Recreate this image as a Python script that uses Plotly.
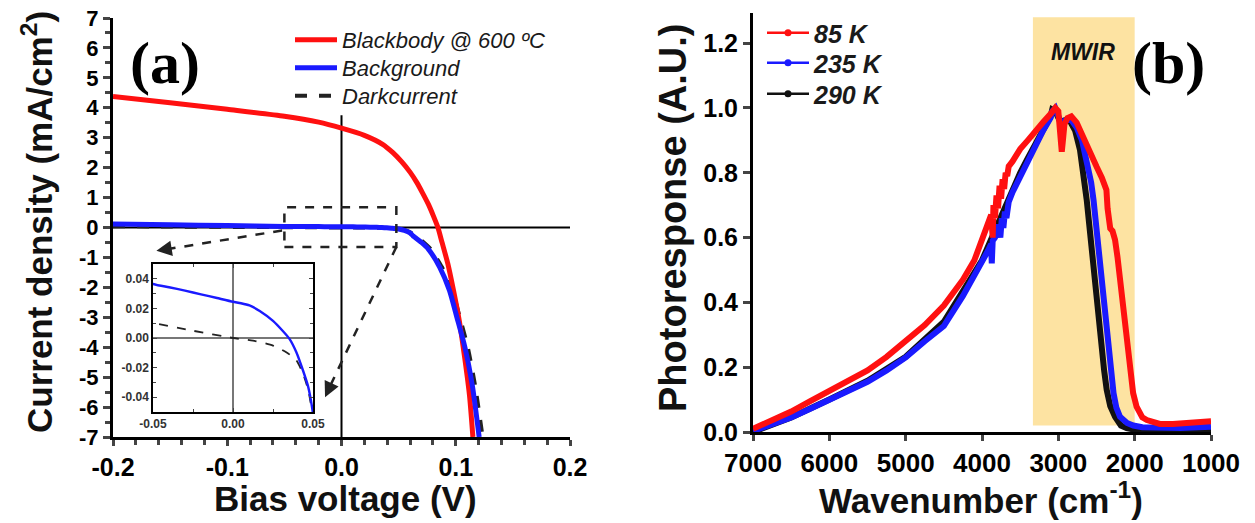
import plotly.graph_objects as go

# ---------------- Panel (a): J-V curves ----------------
bb_v = [-0.2, -0.15, -0.1, -0.05, -0.02, 0.0, 0.02, 0.036, 0.045, 0.0526, 0.06, 0.066, 0.071,
        0.076, 0.0805, 0.0844, 0.088, 0.093, 0.098, 0.103, 0.108, 0.112, 0.115]
bb_j = [4.38, 4.17, 3.95, 3.72, 3.52, 3.32, 3.08, 2.78, 2.5, 2.2, 1.85, 1.5, 1.15,
        0.78, 0.38, 0.0, -0.5, -1.2, -2.1, -3.1, -4.4, -5.6, -7.0]

bg_v = [-0.2, -0.15, -0.1, -0.05, -0.04, -0.03, -0.02, -0.01, 0.0, 0.005, 0.0103, 0.0167, 0.025,
        0.031, 0.0354, 0.0396, 0.0437, 0.047, 0.05, 0.055, 0.06, 0.0626, 0.07, 0.076, 0.086,
        0.0945, 0.101, 0.108, 0.1146, 0.1205]
bg_j = [0.12, 0.09, 0.065, 0.0365, 0.0343, 0.032, 0.0295, 0.027, 0.0245, 0.0235, 0.022, 0.0183, 0.0116,
        0.0049, -0.0007, -0.0096, -0.0218, -0.033, -0.051, -0.1, -0.18, -0.28, -0.5, -0.72, -1.33,
        -2.1, -3.0, -4.0, -5.3, -7.0]

dk_v = [-0.2, -0.15, -0.1, -0.05, -0.025, 0.0, 0.0125, 0.025, 0.0333, 0.0396, 0.0437, 0.047, 0.0495,
        0.055, 0.06, 0.065, 0.072, 0.078, 0.088, 0.097, 0.1035, 0.1105, 0.117, 0.1235]
dk_j = [0.045, 0.03, 0.02, 0.0102, 0.0049, 0.0, -0.0018, -0.0051, -0.0096, -0.015, -0.024, -0.035, -0.05,
        -0.09, -0.16, -0.28, -0.5, -0.72, -1.33, -2.1, -3.0, -4.0, -5.3, -7.0]

a_xtick_vals = [-0.2, -0.1, 0.0, 0.1, 0.2]
a_xtick_text = ["-0.2", "-0.1", "0.0", "0.1", "0.2"]
a_ytick_vals = list(range(-7, 8))
a_ytick_text = [str(v) for v in a_ytick_vals]
in_xtick_vals = [-0.05, 0.0, 0.05]
in_xtick_text = ["-0.05", "0.00", "0.05"]
in_ytick_vals = [-0.04, -0.02, 0.0, 0.02, 0.04]
in_ytick_text = ["-0.04", "-0.02", "0.00", "0.02", "0.04"]

# ---------------- Panel (b): photoresponse ----------------
k85 = [7000, 6750, 6500, 6250, 6000, 5750, 5500, 5250, 5000, 4750, 4500, 4250, 4100, 4000, 3920,
       3880, 3860, 3850, 3830, 3810, 3790, 3770, 3750, 3730, 3710, 3690, 3670, 3650, 3600, 3500,
       3400, 3300, 3200, 3100, 3040, 3000, 2970, 2955, 2940, 2920, 2880, 2830, 2760, 2680, 2600,
       2500, 2430, 2370, 2355, 2340, 2320, 2290, 2257, 2225, 2192, 2160, 2127, 2095, 2061, 2020,
       1975, 1900, 1840, 1750, 1670, 1500, 1300, 1150, 1000]
r85 = [0.01, 0.035, 0.063, 0.095, 0.125, 0.157, 0.19, 0.232, 0.28, 0.33, 0.39, 0.47, 0.53, 0.6, 0.65,
       0.67, 0.6, 0.7, 0.66, 0.73, 0.69, 0.76, 0.72, 0.78, 0.75, 0.8, 0.79, 0.82, 0.835, 0.873,
       0.9, 0.93, 0.956, 0.982, 1.0, 0.99, 0.93, 0.865, 0.9, 0.95, 0.969, 0.974, 0.955, 0.91, 0.87,
       0.819, 0.785, 0.747, 0.69, 0.665, 0.628, 0.62, 0.593, 0.54, 0.469, 0.4, 0.325, 0.25, 0.171, 0.12,
       0.078, 0.045, 0.037, 0.028, 0.025, 0.025, 0.027, 0.03, 0.033]

k235 = [7000, 6750, 6500, 6250, 6000, 5750, 5500, 5250, 5000, 4750, 4500, 4250, 4100, 4000, 3920,
        3880, 3872, 3860, 3830, 3800, 3780, 3760, 3740, 3720, 3700, 3680, 3650, 3600, 3500, 3400,
        3300, 3200, 3100, 3080, 3040, 3000, 2960, 2940, 2900, 2830, 2760, 2690, 2650, 2604, 2570,
        2539, 2505, 2473, 2440, 2408, 2375, 2343, 2310, 2277, 2240, 2192, 2100, 2018, 1900, 1700,
        1400, 1000]
r235 = [0.003, 0.022, 0.045, 0.072, 0.099, 0.125, 0.155, 0.19, 0.23, 0.28, 0.327, 0.42, 0.48, 0.525, 0.56,
        0.58, 0.52, 0.59, 0.6, 0.62, 0.64, 0.6, 0.66, 0.63, 0.68, 0.66, 0.71, 0.74, 0.79, 0.84,
        0.885, 0.93, 0.97, 0.99, 1.0, 0.98, 0.95, 0.955, 0.963, 0.963, 0.94, 0.9, 0.86, 0.819, 0.77,
        0.716, 0.64, 0.562, 0.48, 0.407, 0.33, 0.253, 0.18, 0.12, 0.075, 0.047, 0.028, 0.02, 0.015, 0.012,
        0.012, 0.016]

k290 = [7000, 6500, 6000, 5500, 5000, 4500, 4000, 3800, 3700, 3600, 3500, 3400, 3300, 3200, 3100,
        3080, 3040, 3000, 2960, 2940, 2880, 2850, 2780, 2716, 2670, 2628, 2595, 2563, 2530, 2497,
        2465, 2432, 2400, 2366, 2320, 2257, 2180, 2104, 2000, 1500, 1000]
r290 = [0.0, 0.045, 0.1, 0.158, 0.232, 0.34, 0.53, 0.64, 0.69, 0.745, 0.8, 0.845, 0.89, 0.935, 0.975,
        0.995, 0.99, 0.97, 0.95, 0.96, 0.965, 0.96, 0.93, 0.87, 0.8, 0.716, 0.64, 0.562, 0.485, 0.407,
        0.33, 0.253, 0.19, 0.13, 0.08, 0.047, 0.02, 0.012, 0.007, 0.004, 0.005]

b_xtick_vals = [7000, 6000, 5000, 4000, 3000, 2000, 1000]
b_xtick_text = ["7000", "6000", "5000", "4000", "3000", "2000", "1000"]
b_ytick_vals = [0.0, 0.2, 0.4, 0.6, 0.8, 1.0, 1.2]
b_ytick_text = ["0.0", "0.2", "0.4", "0.6", "0.8", "1.0", "1.2"]
mwir_band = [3333, 2000]

SANS = "Liberation Sans"
SERIF = "Liberation Serif"
RED, BLUE, BLK = "#ff1010", "#1a1aff", "#111111"

fig = go.Figure()

# panel (a) main
fig.add_trace(go.Scatter(x=dk_v, y=dk_j, mode="lines", name="Darkcurrent", legend="legend3",
                         line=dict(color="#222222", width=4, dash="dash", shape="spline", smoothing=0.6),
                         xaxis="x", yaxis="y"))
fig.add_trace(go.Scatter(x=bb_v, y=bb_j, mode="lines", name="Blackbody @ 600 ºC", legend="legend",
                         line=dict(color=RED, width=5, shape="spline", smoothing=0.6), xaxis="x", yaxis="y"))
fig.add_trace(go.Scatter(x=bg_v, y=bg_j, mode="lines", name="Background", legend="legend2",
                         line=dict(color=BLUE, width=5, shape="spline", smoothing=0.6), xaxis="x", yaxis="y"))
# inset
fig.add_trace(go.Scatter(x=dk_v, y=dk_j, mode="lines", showlegend=False,
                         line=dict(color="#222222", width=1.8, dash="dash", shape="spline", smoothing=0.6),
                         xaxis="x3", yaxis="y3"))
fig.add_trace(go.Scatter(x=bg_v, y=bg_j, mode="lines", showlegend=False,
                         line=dict(color=BLUE, width=2.4, shape="spline", smoothing=0.6), xaxis="x3", yaxis="y3"))

# panel (b)
fig.add_trace(go.Scatter(x=k290, y=r290, mode="lines", showlegend=False,
                         line=dict(color=BLK, width=6), xaxis="x2", yaxis="y2"))
fig.add_trace(go.Scatter(x=k235, y=r235, mode="lines", showlegend=False,
                         line=dict(color=BLUE, width=6), xaxis="x2", yaxis="y2"))
fig.add_trace(go.Scatter(x=k85, y=r85, mode="lines", showlegend=False,
                         line=dict(color=RED, width=6), xaxis="x2", yaxis="y2"))
for nm, col, lg in [("85 K", RED, "legend4"), ("235 K", BLUE, "legend5"), ("290 K", BLK, "legend6")]:
    fig.add_trace(go.Scatter(x=[None], y=[None], mode="lines+markers", name=nm, legend=lg,
                             line=dict(color=col, width=2.5), marker=dict(color=col, size=7),
                             xaxis="x2", yaxis="y2"))

W, H = 1255, 523
def px(xp): return xp / W
def py(yp): return 1 - yp / H

line_common = dict(showline=True, linecolor="black", showgrid=False, zeroline=False, automargin=False)

def leg(xp, yp, size, weight="normal"):
    return dict(x=px(xp), y=py(yp), xanchor="left", yanchor="middle", bgcolor="rgba(0,0,0,0)",
                font=dict(size=size, family=SANS, style="italic", weight=weight, color="#1a1a1a"),
                itemwidth=42, borderwidth=0)

layout = dict(
    template="none",
    width=W, height=H, margin=dict(l=0, r=0, t=0, b=0, pad=0, autoexpand=False),
    paper_bgcolor="white", plot_bgcolor="white",
    font=dict(family=SANS, color="black"),
    xaxis=dict(domain=[px(113), px(570)], range=[-0.2, 0.2], anchor="y", linewidth=3,
               tickmode="array", tickvals=a_xtick_vals, ticktext=a_xtick_text,
               ticks="outside", ticklen=6, tickwidth=3,
               tickfont=dict(size=25, family=SANS, weight="bold"),
               minor=dict(dtick=0.02, tick0=-0.2, ticks="outside", ticklen=5, tickwidth=2.5),
               **line_common),
    yaxis=dict(domain=[py(437), py(18)], range=[-7, 7], anchor="x", linewidth=3,
               tickmode="array", tickvals=a_ytick_vals, ticktext=a_ytick_text,
               ticks="outside", ticklen=7, tickwidth=3,
               tickfont=dict(size=22, family=SANS, weight="bold"),
               minor=dict(dtick=0.5, tick0=0, ticks="outside", ticklen=5, tickwidth=2.5),
               **line_common),
    xaxis4=dict(overlaying="x", side="top", anchor="y", range=[-0.2, 0.2], linewidth=3,
                tickmode="array", tickvals=a_xtick_vals, showticklabels=False,
                ticks="inside", ticklen=8, tickwidth=3,
                minor=dict(dtick=0.02, tick0=-0.2, ticks="inside", ticklen=5, tickwidth=2.5),
                **line_common),
    yaxis4=dict(overlaying="y", side="right", anchor="x", range=[-7, 7], linewidth=3,
                tickmode="array", tickvals=a_ytick_vals, showticklabels=False,
                ticks="inside", ticklen=8, tickwidth=3,
                minor=dict(dtick=0.5, tick0=0, ticks="inside", ticklen=5, tickwidth=2.5),
                **line_common),
    xaxis3=dict(domain=[px(153), px(313)], range=[-0.05, 0.05], anchor="y3", linewidth=1.5,
                showline=True, linecolor="black", mirror="allticks", showgrid=False, automargin=False,
                zeroline=True, zerolinecolor="#777777", zerolinewidth=1.5,
                tickmode="array", tickvals=in_xtick_vals, ticktext=in_xtick_text,
                ticks="inside", ticklen=4, tickwidth=1.2, tickcolor="#444",
                tickfont=dict(size=12, family=SANS, weight="bold", color="#333"),
                minor=dict(dtick=0.025, tick0=0, ticks="inside", ticklen=3, tickwidth=1, tickcolor="#444")),
    yaxis3=dict(domain=[py(412), py(264)], range=[-0.05, 0.05], anchor="x3", linewidth=1.5,
                showline=True, linecolor="black", mirror="allticks", showgrid=False, automargin=False,
                zeroline=True, zerolinecolor="#777777", zerolinewidth=1.5,
                tickmode="array", tickvals=in_ytick_vals, ticktext=in_ytick_text,
                ticks="inside", ticklen=4, tickwidth=1.2, tickcolor="#444",
                tickfont=dict(size=12, family=SANS, weight="bold", color="#333"),
                minor=dict(dtick=0.01, tick0=0, ticks="inside", ticklen=3, tickwidth=1, tickcolor="#444")),
    xaxis2=dict(domain=[px(753), px(1211)], range=[7000, 1000], anchor="y2", linewidth=3,
                tickmode="array", tickvals=b_xtick_vals, ticktext=b_xtick_text,
                ticks="outside", ticklen=6, tickwidth=3,
                tickfont=dict(size=26, family=SANS, weight="bold"),
                **line_common),
    yaxis2=dict(domain=[py(432), py(13)], range=[0, 1.293], anchor="x2", linewidth=3,
                tickmode="array", tickvals=b_ytick_vals, ticktext=b_ytick_text,
                ticks="outside", ticklen=7, tickwidth=3,
                tickfont=dict(size=25, family=SANS, weight="bold"),
                **line_common),
    xaxis5=dict(overlaying="x2", side="top", anchor="y2", range=[7000, 1000], linewidth=3,
                tickmode="array", tickvals=b_xtick_vals, showticklabels=False,
                ticks="inside", ticklen=8, tickwidth=3, **line_common),
    yaxis5=dict(overlaying="y2", side="right", anchor="x2", range=[0, 1.293], linewidth=3,
                tickmode="array", tickvals=b_ytick_vals, showticklabels=False,
                ticks="inside", ticklen=8, tickwidth=3, **line_common),
    legend=leg(290, 40, 22),
    legend2=leg(290, 68, 22),
    legend3=leg(290, 96, 22),
    legend4=leg(762, 33, 25, "bold"),
    legend5=leg(762, 63, 25, "bold"),
    legend6=leg(762, 94, 25, "bold"),
)
fig.update_layout(**layout)

# shapes
shapes = [
    dict(type="rect", xref="x2", yref="y2", x0=mwir_band[0], x1=mwir_band[1], y0=0.02, y1=1.28,
         fillcolor="#fde3a2", line=dict(width=0), layer="below"),
    dict(type="line", xref="x", yref="y", x0=-0.2, x1=0.2, y0=0, y1=0, line=dict(color="black", width=2), layer="below"),
    dict(type="line", xref="x", yref="y", x0=0, x1=0, y0=-7, y1=3.75, line=dict(color="black", width=2), layer="below"),
    dict(type="rect", xref="x", yref="y", x0=-0.05, x1=0.048, y0=-0.65, y1=0.68,
         line=dict(color="#222", width=2.5, dash="dash")),
    dict(type="line", xref="x", yref="y", x0=-0.052, y0=-0.1, x1=-0.155, y1=-0.74,
         line=dict(color="#222", width=2.5, dash="dash")),
    dict(type="line", xref="x", yref="y", x0=0.048, y0=-0.65, x1=-0.01, y1=-5.3,
         line=dict(color="#222", width=2.5, dash="dash")),
]
fig.update_layout(shapes=shapes)

def txt(xp, yp, s, size, family=SANS, weight="bold", style="normal", angle=0, color="#111"):
    return dict(x=px(xp), y=py(yp), xref="paper", yref="paper", text=s, showarrow=False,
                xanchor="center", yanchor="middle", textangle=angle,
                font=dict(family=family, size=size, weight=weight, style=style, color=color))

ann = [
    dict(x=-0.162, y=-0.78, xref="x", yref="y", ax=14, ay=-2.3, axref="pixel", ayref="pixel",
         showarrow=True, arrowhead=2, arrowsize=1.4, arrowwidth=2.2, arrowcolor="#222", text=""),
    dict(x=-0.0144, y=-5.67, xref="x", yref="y", ax=6, ay=-12.7, axref="pixel", ayref="pixel",
         showarrow=True, arrowhead=2, arrowsize=1.4, arrowwidth=2.2, arrowcolor="#222", text=""),
    txt(165, 63, "(a)", 60, family=SERIF, color="black"),
    txt(1168, 63, "(b)", 60, family=SERIF, color="black"),
    txt(1083, 52, "MWIR", 23, style="italic"),
    txt(37, 222, "Current density (mA/cm<sup>2</sup>)", 35, angle=-90),
    txt(345, 498, "Bias voltage (V)", 35),
    txt(673, 218, "Photoresponse (A.U.)", 38, angle=-90),
    txt(981, 498, "Wavenumber (cm<sup>-1</sup>)", 35),
]
fig.update_layout(annotations=ann)

fig.write_html("out.html")
